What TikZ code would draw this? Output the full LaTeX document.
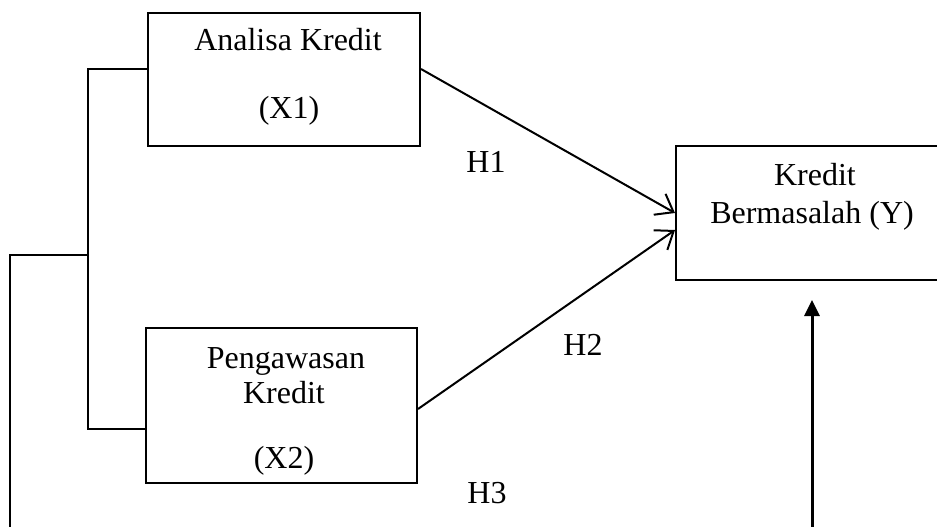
\documentclass[tikz,border=0pt]{standalone}
\usepackage{fontspec}
\setmainfont{Liberation Serif}
\usetikzlibrary{arrows.meta}
\begin{document}
\begin{tikzpicture}[x=1pt,y=-1pt,
  box/.style={draw, line width=2pt, inner sep=0pt},
  txt/.style={anchor=base, inner sep=0pt, font=\fontsize{32}{37}\selectfont},
  conn/.style={line width=2pt},
  barb/.style={conn, -{Straight Barb[length=16pt,width=24pt,line width=2pt]}},
  uparrow/.style={line width=3pt, -{Triangle[length=16pt,width=15pt]}}]
\useasboundingbox (0,0) rectangle (937,527);
\clip (0,0) rectangle (937,527);
% boxes
\node[box, minimum width=272, minimum height=133] (x1) at (284,79.5) {};
\node[box, minimum width=271, minimum height=155] (x2) at (281.5,405.5) {};
\node[box, minimum width=279, minimum height=134] (y) at (815.5,213) {};
% texts
\node[txt] (t1a) at (288,51) {Analisa Kredit};
\node[txt] (t1b) at (289,118) {(X1)};
\node[txt] (t2a) at (286,368) {Pengawasan};
\node[txt] (t2b) at (284,403) {Kredit};
\node[txt] (t2c) at (284,468) {(X2)};
\node[txt] (t3a) at (815,185) {Kredit};
\node[txt] (t3b) at (812,223) {Bermasalah (Y)};
\node[txt] (h1) at (486,172) {H1};
\node[txt] (h2) at (583,355) {H2};
\node[txt] (h3) at (487,503) {H3};
% coordinates
\coordinate (bt) at (88,69);
\coordinate (bb) at (88,429);
\coordinate (bm) at (88,255);
\coordinate (lt) at (10,255);
\coordinate (lb) at (10,532);
\coordinate (ab) at (812,532);
% connectors
\draw[barb] ([yshift=10.5pt]x1.east) -- (y.west);
\draw[barb] ([yshift=-3.5pt]x2.east) -- ([yshift=-17pt]y.west);
\draw[conn] ([yshift=10.5pt]x1.west) -- (bt) -- (bb) -- ([yshift=-23.5pt]x2.west);
\draw[line width=2.5pt] (bm) -- (lt) -- (lb);
\draw[uparrow] (ab) -- ([yshift=-19pt]y.south -| ab);
\end{tikzpicture}
\end{document}
